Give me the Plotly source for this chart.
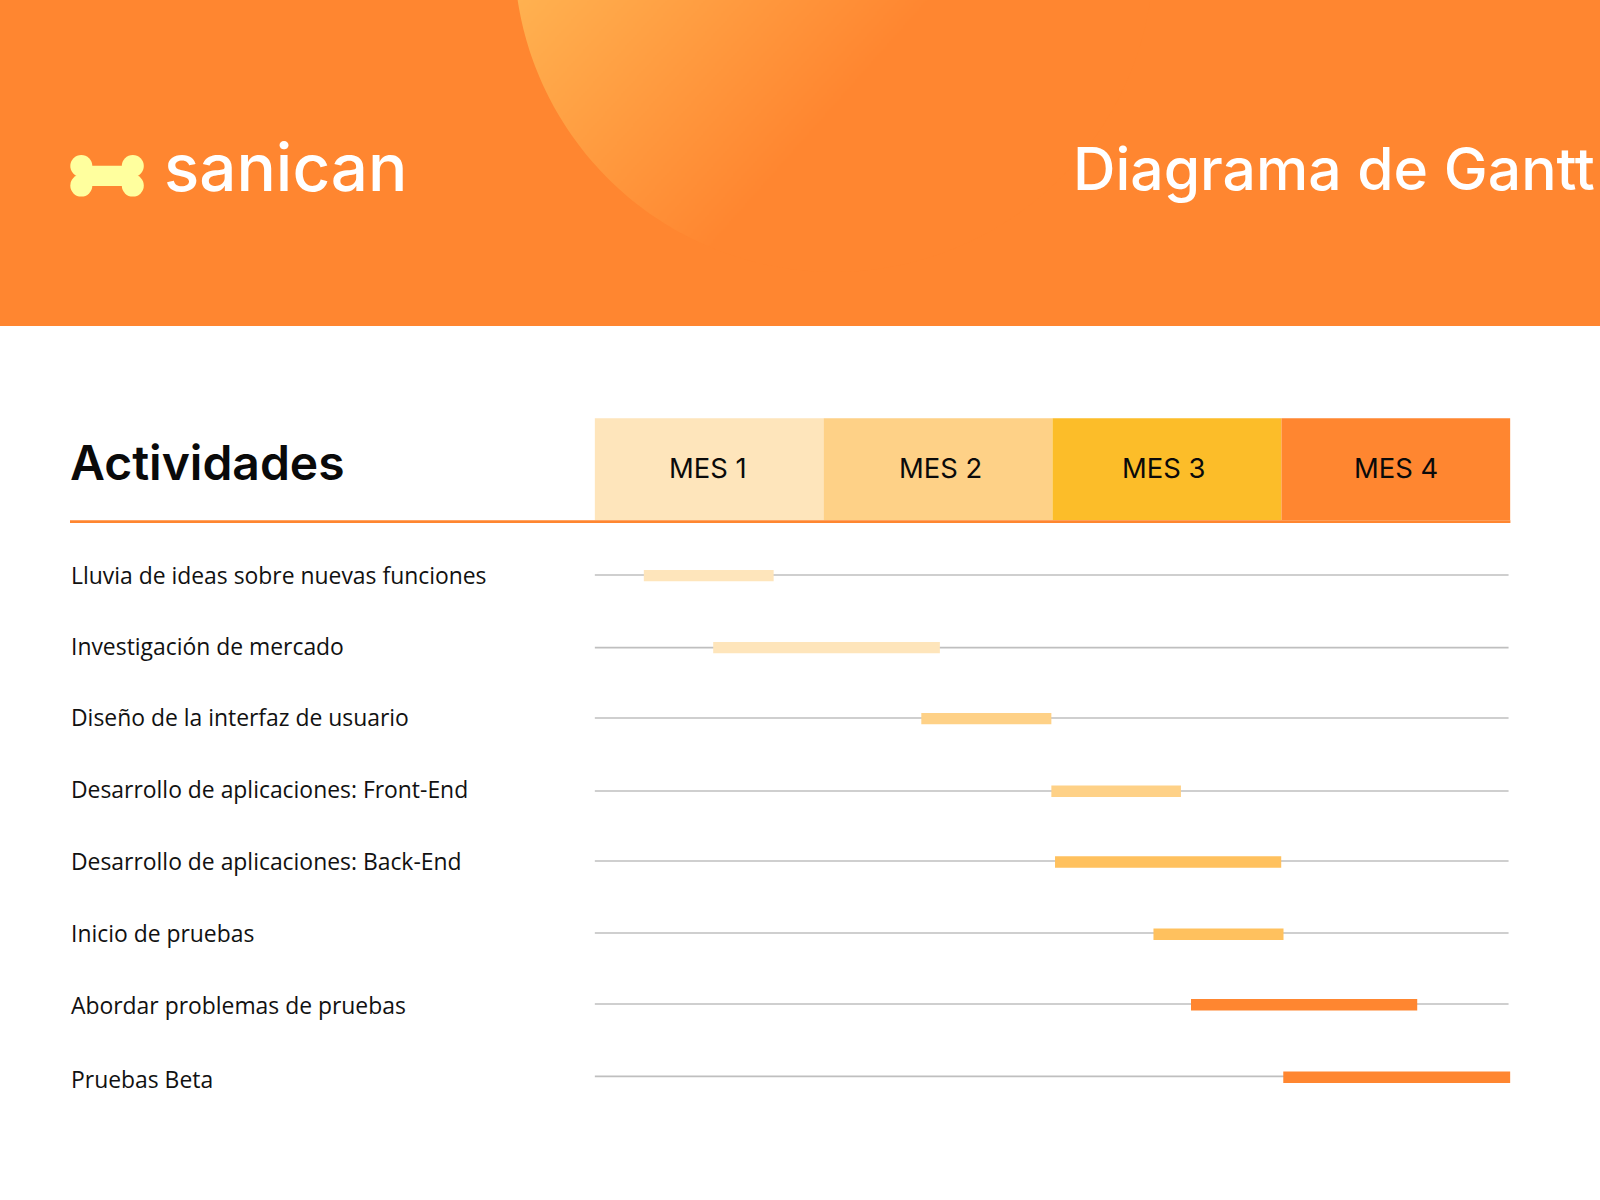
import numpy as np
import plotly.graph_objects as go

# ---------- data ----------
months = ["MES 1", "MES 2", "MES 3", "MES 4"]
month_colors = ["#FEE5BB", "#FED187", "#FCBD29", "#FF8630"]
activities = [
    "Lluvia de ideas sobre nuevas funciones",
    "Investigación de mercado",
    "Diseño de la interfaz de usuario",
    "Desarrollo de aplicaciones: Front-End",
    "Desarrollo de aplicaciones: Back-End",
    "Inicio de pruebas",
    "Abordar problemas de pruebas",
    "Pruebas Beta",
]
start_month = [0.215, 0.518, 1.427, 1.995, 2.011, 2.441, 2.605, 3.008]
end_month = [0.782, 1.508, 1.995, 2.561, 2.999, 3.009, 3.593, 4.000]
bar_colors = ["#FEE5BB", "#FEE5BB", "#FED187", "#FED187",
              "#FFC15E", "#FFC15E", "#FF8630", "#FF8630"]
brand = "sanican"
title = "Diagrama de Gantt"
left_header = "Actividades"

# ---------- layout constants (pixels on the 1600x1200 page) ----------
W, H = 1600, 1200
ORANGE = "#FF8630"
X0, X1 = 594.6, 1510.4
line_y = [575, 647.7, 718, 791, 861, 933, 1004, 1076.3]
bar_y = [575.6, 647.6, 718.6, 791.3, 862, 934.3, 1004.7, 1077.3]
label_y = [575.5, 646.5, 717.5, 789.5, 861.5, 933.5, 1005.5, 1079.5]

fig = go.Figure()

# Month header cells
fig.add_trace(go.Bar(
    y=[469.3] * 4, x=[1] * 4, base=list(range(4)), orientation="h", width=102,
    marker=dict(color=month_colors, line_width=0, opacity=1), xaxis="x", yaxis="y",
    hoverinfo="skip", showlegend=False))

# Activity bars
fig.add_trace(go.Bar(
    y=bar_y, x=[e - s for s, e in zip(start_month, end_month)], base=start_month,
    orientation="h", width=11.4, marker=dict(color=bar_colors, line_width=0, opacity=1),
    customdata=activities, hovertemplate="%{customdata}<extra></extra>",
    xaxis="x", yaxis="y", showlegend=False))

# Header glow: diagonal gradient, trimmed to a circle by the cover shape below
gx = np.arange(500, 962, 2.0)
gy = np.arange(0, 326, 2.0)
xx, yy = np.meshgrid(gx, gy)
z = np.clip((0.748 * xx + 0.664 * yy - 387) / 310, 0, 1)
fig.add_trace(go.Heatmap(
    x=gx, y=gy, z=z, zmin=0, zmax=1, showscale=False, hoverinfo="skip",
    colorscale=[[0, "#FFB150"], [1, ORANGE]], xaxis="x2", yaxis="y"))

shapes = []
# Header band
shapes.append(dict(type="rect", xref="x2", yref="y", x0=0, x1=W, y0=0, y1=326,
                   fillcolor=ORANGE, line_width=0, layer="below"))
# Cover with circular hole
cx, cy, r = 834, -48, 320
ang = np.linspace(0, 2 * np.pi, 361)
hole = "M" + " L".join(f"{cx + r * np.cos(a):.2f},{cy + r * np.sin(a):.2f}" for a in ang) + " Z"
outer = "M498,-1 L498,326 L964,326 L964,-1 Z"
shapes.append(dict(type="path", xref="x2", yref="y", path=outer + " " + hole,
                   fillcolor=ORANGE, line_width=0, layer="above"))
# Row guide lines (month units on the main axis so they sit under the bars)
for y in line_y:
    shapes.append(dict(type="line", xref="x", yref="y", x0=0, x1=3.992, y0=y, y1=y,
                       line=dict(color="#BFBFBF", width=1.7), layer="below"))
# Rule under the header
shapes.append(dict(type="rect", xref="x2", yref="y", x0=70, x1=X1, y0=520.2, y1=523,
                   fillcolor=ORANGE, line_width=0, layer="above"))
# Bone logo
BONE = "#FFFF9E"
for ccx in (81.3, 132.8):
    for ccy in (166, 185.6):
        shapes.append(dict(type="circle", xref="x2", yref="y", x0=ccx - 11, x1=ccx + 11,
                           y0=ccy - 11, y1=ccy + 11, fillcolor=BONE, line_width=0, layer="above"))
shapes.append(dict(type="rect", xref="x2", yref="y", x0=81, x1=133, y0=165.7, y1=186,
                   fillcolor=BONE, line_width=0, layer="above"))

ann = []
def text(s, x, y, size, color, family, anchor="left", weight=400):
    ann.append(dict(text=s, x=x, y=y, xref="x2", yref="y", xanchor=anchor, yanchor="middle",
                    showarrow=False, font=dict(size=size, color=color, family=family, weight=weight)))

text(brand, 162, 167.5, 65.5, "white", "Inter", weight=500)
text(title, 1071, 168, 58.8, "white", "Inter", weight=500)
text(left_header, 68, 462, 48, "#0A0A0A", "Inter", weight=600)
centers = [708, 940, 1163, 1396]
for m, c in zip(months, centers):
    text(m, c, 468, 27.4, "#0A0A0A", "Inter", anchor="center")
for a, y in zip(activities, label_y):
    text(a, 68.5, y, 22.9, "#111111", "Open Sans")

fig.update_layout(
    width=W, height=H, autosize=False, margin=dict(l=0, r=0, t=0, b=0, pad=0),
    paper_bgcolor="white", plot_bgcolor="rgba(0,0,0,0)", barmode="overlay",
    showlegend=False, shapes=shapes, annotations=ann,
    xaxis=dict(domain=[X0 / W, X1 / W], range=[0, 4], visible=False, fixedrange=True, anchor="y"),
    xaxis2=dict(domain=[0, 1], range=[0, W], visible=False, fixedrange=True, anchor="y"),
    yaxis=dict(domain=[0, 1], range=[H, 0], visible=False, fixedrange=True, anchor="x"),
)
fig.write_html("out.html", config=dict(displayModeBar=False),
               post_script="document.body.style.margin='0';")
